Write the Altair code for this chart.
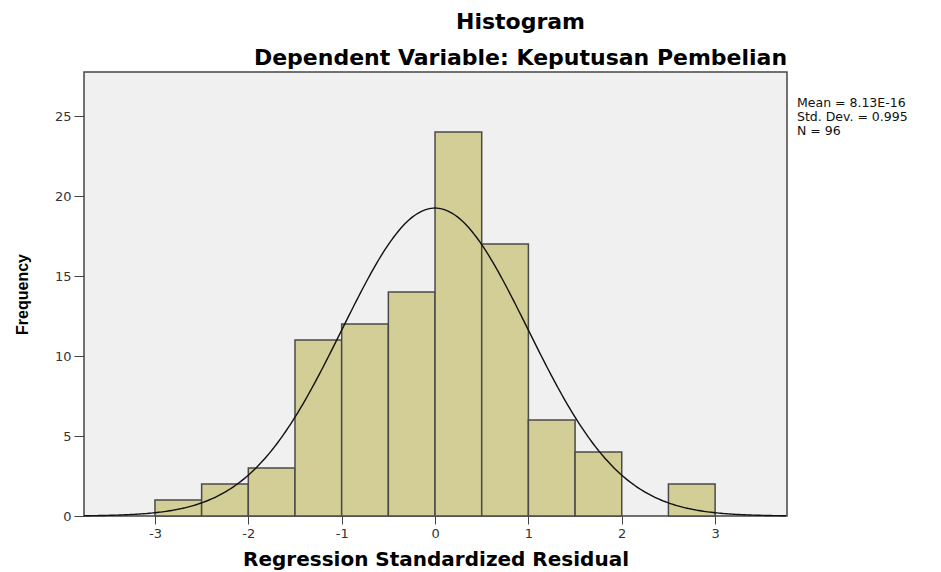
import altair as alt
import pandas as pd

# Data
bin_lo = [-3.0, -2.5, -2.0, -1.5, -1.0, -0.5, 0.0, 0.5, 1.0, 1.5, 2.0, 2.5]
bin_hi = [-2.5, -2.0, -1.5, -1.0, -0.5, 0.0, 0.5, 1.0, 1.5, 2.0, 2.5, 3.0]
counts = [1, 2, 3, 11, 12, 14, 24, 17, 6, 4, 0, 2]

mean_val = 8.13e-16
sd_val = 0.995
n_val = 96
bin_width = 0.5

x_ticks = [-3, -2, -1, 0, 1, 2, 3]
y_ticks = [0, 5, 10, 15, 20, 25]
stats_lines = ["Mean = 8.13E-16", "Std. Dev. = 0.995", "N = 96"]

XMIN, XMAX = -3.76, 3.77
YMAX = 27.75

bars_df = pd.DataFrame({"lo": bin_lo, "hi": bin_hi, "count": counts})
bars_df = bars_df[bars_df["count"] > 0]

WIDE = "DejaVu Sans"
NARROW = "Liberation Sans"

xscale = alt.Scale(domain=[XMIN, XMAX], nice=False, zero=False)
yscale = alt.Scale(domain=[0, YMAX], nice=False)

xaxis = alt.Axis(values=x_ticks, title="Regression Standardized Residual",
                 labelExpr="'' + datum.value",
                 grid=False, domain=False, tickSize=8, tickColor="#444",
                 labelFontSize=13, labelColor="#333", labelFont=WIDE,
                 titleFont=WIDE, titleFontSize=20, titleFontWeight="bold",
                 titleColor="#000", titlePadding=9, labelPadding=3)
yaxis = alt.Axis(values=y_ticks, title="Frequency", grid=False, domain=False,
                 labelExpr="'' + datum.value",
                 tickSize=10, tickColor="#444", labelFontSize=13,
                 labelColor="#333", labelFont=WIDE,
                 titleFont=NARROW, titleFontSize=16,
                 titleFontWeight="bold", titleColor="#000", titlePadding=24,
                 labelPadding=3)

bars = alt.Chart(bars_df).mark_rect(
    fill="#D2CE96", stroke="#4a4a4a", strokeWidth=1.5
).encode(
    x=alt.X("lo:Q", scale=xscale, axis=xaxis),
    x2="hi:Q",
    y=alt.Y("count:Q", scale=yscale, axis=yaxis),
    y2=alt.datum(0),
)

curve = alt.Chart(alt.sequence(XMIN, XMAX + 0.01, 0.02, as_="x")).transform_calculate(
    dens=f"{n_val}*{bin_width}*exp(-0.5*pow((datum.x-{mean_val})/{sd_val},2))/({sd_val}*sqrt(2*PI))"
).mark_line(color="#111", strokeWidth=1.4).encode(
    x=alt.X("x:Q", scale=xscale),
    y=alt.Y("dens:Q", scale=yscale),
)

stats = alt.Chart(pd.DataFrame({"t": ["\n".join(stats_lines)]})).mark_text(
    align="left", baseline="top", font=WIDE, fontSize=12.5, lineHeight=14,
    lineBreak="\n", color="#111"
).encode(
    x=alt.value(713), y=alt.value(25), text="t:N"
)

chart = alt.layer(bars, curve, stats).properties(
    width=703, height=444,
    padding={"left": 76, "top": 64, "right": 146, "bottom": 54},
    autosize=alt.AutoSizeParams(type="none"),
    title=alt.TitleParams(
        text="Histogram",
        subtitle="Dependent Variable: Keputusan Pembelian",
        anchor="middle", dx=85, font=WIDE, fontSize=22, fontWeight="bold",
        subtitleFont=WIDE, subtitleFontSize=22, subtitleFontWeight="bold",
        subtitleColor="#000", color="#000", subtitlePadding=14, offset=2,
    ),
).configure(
    background="white"
).configure_view(
    fill="#F0F0F0", stroke="#444", strokeWidth=1.5
)

chart.save("out.html", embed_options={"renderer": "svg", "actions": False})
